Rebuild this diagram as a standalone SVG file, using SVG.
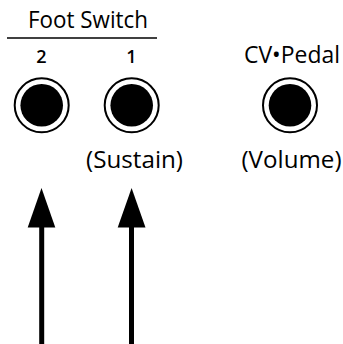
<svg xmlns="http://www.w3.org/2000/svg" width="343" height="344" viewBox="0 0 343 344">
  <style>
    .lbl { font-family: "Open Sans", "Noto Sans", "DejaVu Sans", sans-serif; font-size: 23px; fill: #000; text-anchor: middle; }
    .num { font-family: "Open Sans", "Noto Sans", "DejaVu Sans", sans-serif; font-size: 18px; font-weight: 600; fill: #000; text-anchor: middle; }
    .ring { fill: #fff; stroke: #000; stroke-width: 2; }
    .hole { fill: #000; }
    .shaft { stroke: #000; stroke-width: 5; fill: none; }
    .head { fill: #000; }
  </style>
  <rect width="343" height="344" fill="#fff"/>
  <g id="foot-switch-header">
    <text class="lbl" x="88" y="27.5" textLength="120" lengthAdjust="spacingAndGlyphs">Foot Switch</text>
    <line x1="7" y1="38" x2="157" y2="38" stroke="#000" stroke-width="1.4"/>
  </g>
  <g id="jack-fs2">
    <text class="num" x="41.5" y="63">2</text>
    <circle class="ring" cx="41.7" cy="105.3" r="27"/>
    <circle class="hole" cx="41.7" cy="105.3" r="21.3"/>
  </g>
  <g id="jack-fs1">
    <text class="num" x="131.5" y="63">1</text>
    <circle class="ring" cx="131.7" cy="105.3" r="27"/>
    <circle class="hole" cx="131.7" cy="105.3" r="21.3"/>
    <text class="lbl" x="134.5" y="168" textLength="97" lengthAdjust="spacingAndGlyphs">(Sustain)</text>
  </g>
  <g id="jack-cv-pedal">
    <text class="lbl" x="292" y="62.5" textLength="96" lengthAdjust="spacingAndGlyphs">CV•Pedal</text>
    <circle class="ring" cx="290" cy="105.3" r="27"/>
    <circle class="hole" cx="290" cy="105.3" r="21.3"/>
    <text class="lbl" x="291.5" y="168" textLength="100" lengthAdjust="spacingAndGlyphs">(Volume)</text>
  </g>
  <g id="connectors">
    <line class="shaft" x1="41.7" y1="344" x2="41.7" y2="222"/>
    <polygon class="head" points="41.5,188 55.3,227.5 27.7,227.5"/>
    <line class="shaft" x1="131.5" y1="344" x2="131.5" y2="222"/>
    <polygon class="head" points="131.6,188 145.5,227.5 117.7,227.5"/>
  </g>
</svg>
